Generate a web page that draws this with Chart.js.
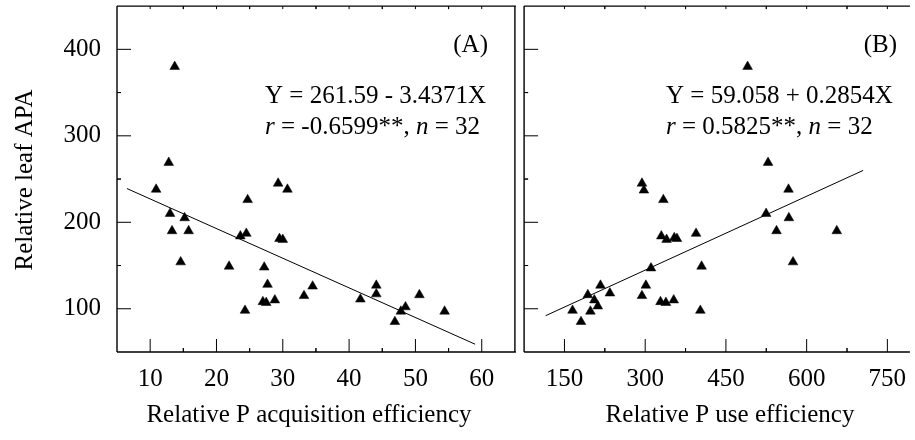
<!DOCTYPE html>
<html>
<head>
<meta charset="utf-8">
<script src="https://cdn.jsdelivr.net/npm/chart.js@4.4.0/dist/chart.umd.min.js"></script>
<style>
  body { margin: 0; background: #fff; }
  #wrap { position: relative; width: 915px; height: 440px; overflow: hidden; }
  #boxA { position: absolute; left: 0; top: 0; width: 521px; height: 440px; }
  #boxB { position: absolute; left: 518px; top: 0; width: 397px; height: 440px; }
</style>
</head>
<body>
<div id="wrap">
  <div id="boxA"><canvas id="chartA"></canvas></div>
  <div id="boxB"><canvas id="chartB"></canvas></div>
</div>
<script>
'use strict'

// ------------------------- Data -------------------------------------- //
// (A) relative P acquisition efficiency vs relative leaf APA
const acqEff = [13.7, 12.8, 10.9, 29.3, 30.7, 24.7, 13.0, 15.2, 13.3, 15.8, 23.6, 24.5, 29.5, 30.0, 14.6, 21.9,
                27.2, 27.7, 27.0, 27.5, 28.8, 24.3, 33.2, 34.5, 41.7, 44.1, 44.1, 50.6, 48.5, 47.8, 46.9, 54.4];
const apaA   = [380, 269, 238, 245, 238, 226, 210, 205, 190, 190, 184, 187, 181, 180, 154, 149,
                148, 128, 108, 107, 110, 98, 115, 126, 111, 127, 117, 116, 102, 97, 85, 97];
const fitA   = [[6.5, 239], [59, 59]];

// (B) relative P use efficiency vs relative leaf APA
const useEff = [294, 297.6, 333.8, 339.8, 354, 359, 394.5, 404.8, 402.5, 310.8, 301.3, 294, 328.4, 338.5, 353, 216.9,
                234.4, 193.4, 205.5, 212, 198.2, 165, 180.7, 490.3, 528.3, 566.3, 524.7, 567, 544, 656, 574.7, 330];
const apaB   = [245, 237, 226, 180, 182, 181, 187, 149, 98, 147, 127, 115, 108, 107, 110, 127,
                118, 116, 110, 103, 97, 98, 85, 380, 269, 238, 210, 205, 190, 190, 154, 184];
const fitB   = [[115, 92], [705, 260]];

// tick labels
const yTicks  = [100, 200, 300, 400];
const xTicksA = [10, 20, 30, 40, 50, 60];
const xTicksB = [150, 300, 450, 600, 750];

const FONT = "'Liberation Serif', 'Times New Roman', serif";

// ------------------------- Funciones -------------------------------------- //
function toPoints(xs, ys) {
    let arr = [];
    for (let i = 0; i < xs.length; i++) {
        arr.push({x: xs[i], y: ys[i]});
    }
    return arr;
}

function minors(majors, min, max) {
    let step = majors[1] - majors[0];
    let arr = [];
    for (let v of majors) {
        if (v - step / 2 > min) arr.push(v - step / 2);
        if (v + step / 2 < max) arr.push(v + step / 2);
    }
    return arr;
}

// draws a line of text made of [text, italic] pieces
function richText(ctx, pieces, x, y) {
    for (let [txt, it] of pieces) {
        ctx.font = (it ? 'italic ' : '') + '25px ' + FONT;
        ctx.fillText(txt, x, y);
        x += ctx.measureText(txt).width;
    }
}

// frame and inward ticks, like the original figure
const frameTicks = {
    id: 'frameTicks',
    afterDraw(chart, args, opts) {
        const ctx = chart.ctx;
        const a = chart.chartArea;
        const x = chart.scales.x, y = chart.scales.y;
        ctx.save();
        ctx.strokeStyle = '#000';
        ctx.lineWidth = 1.4;
        ctx.beginPath();
        ctx.moveTo(a.left, a.top); ctx.lineTo(a.left, a.bottom);
        ctx.moveTo(a.left, a.bottom); ctx.lineTo(a.right + 1, a.bottom);
        ctx.moveTo(a.left, a.top); ctx.lineTo(a.right + 1, a.top);
        if (opts.right) { ctx.moveTo(a.right, a.top); ctx.lineTo(a.right, a.bottom); }
        ctx.stroke();

        ctx.lineWidth = 1;
        ctx.beginPath();
        for (let v of opts.xMajor) {
            let px = x.getPixelForValue(v);
            ctx.moveTo(px, a.bottom); ctx.lineTo(px, a.bottom - 13);
            ctx.moveTo(px, a.top); ctx.lineTo(px, a.top + 3);
        }
        for (let v of minors(opts.xMajor, x.min, x.max)) {
            let px = x.getPixelForValue(v);
            ctx.moveTo(px, a.bottom); ctx.lineTo(px, a.bottom - 4);
            ctx.moveTo(px, a.top); ctx.lineTo(px, a.top + 3);
        }
        for (let v of yTicks) {
            let py = y.getPixelForValue(v);
            ctx.moveTo(a.left, py); ctx.lineTo(a.left + 14, py);
        }
        for (let v of minors(yTicks, y.min, y.max)) {
            let py = y.getPixelForValue(v);
            ctx.moveTo(a.left, py); ctx.lineTo(a.left + 4, py);
        }
        ctx.stroke();

        // texts
        ctx.fillStyle = '#000';
        ctx.textBaseline = 'alphabetic';
        ctx.textAlign = 'left';
        richText(ctx, opts.eq1, opts.eqX, 103);
        richText(ctx, opts.eq2, opts.eqX, 134);
        ctx.textAlign = 'right';
        ctx.font = '25px ' + FONT;
        ctx.fillText(opts.tag, opts.tagX, 52);
        ctx.textAlign = 'center';
        ctx.fillText(opts.xTitle, opts.xTitleX, 422);
        if (opts.yTitle) {
            ctx.translate(32, 180);
            ctx.rotate(-Math.PI / 2);
            ctx.fillText(opts.yTitle, 0, 0);
        }
        ctx.restore();
    }
};

function makeChart(id, pts, fit, xMin, xMax, xTicks, showY, pad, opts) {
    let ctx = document.getElementById(id).getContext('2d');
    return new Chart(ctx, {
        type: 'scatter',
        data: {
            datasets: [
                {
                    data: pts,
                    pointStyle: 'triangle',
                    pointRadius: 5.6,
                    backgroundColor: '#000',
                    borderColor: '#000',
                    borderWidth: 0.5
                },
                {
                    type: 'line',
                    data: fit.map(p => ({x: p[0], y: p[1]})),
                    borderColor: '#000',
                    borderWidth: 1,
                    pointRadius: 0,
                    fill: false
                }
            ]
        },
        options: {
            responsive: true,
            maintainAspectRatio: false,
            animation: false,
            devicePixelRatio: 1,
            layout: {padding: pad},
            plugins: {
                legend: {display: false},
                tooltip: {enabled: false},
                frameTicks: opts
            },
            scales: {
                x: {
                    type: 'linear',
                    min: xMin,
                    max: xMax,
                    grid: {display: false, drawTicks: false},
                    border: {display: false},
                    afterBuildTicks: s => { s.ticks = xTicks.map(v => ({value: v})); },
                    afterFit: s => {
                        s.height = 88;
                        s.paddingLeft = 0;
                        s.paddingRight = 0;
                    },
                    ticks: {
                        color: '#000',
                        padding: 12,
                        maxRotation: 0,
                        autoSkip: false,
                        font: {family: FONT, size: 25}
                    }
                },
                y: {
                    display: showY,
                    min: 50,
                    max: 450,
                    grid: {display: false, drawTicks: false},
                    border: {display: false},
                    afterBuildTicks: s => { s.ticks = yTicks.map(v => ({value: v})); },
                    afterFit: s => {
                        if (showY) s.width = 117;
                        s.paddingTop = 0;
                        s.paddingBottom = 0;
                    },
                    ticks: {
                        color: '#000',
                        padding: 16,
                        font: {family: FONT, size: 25}
                    }
                }
            }
        },
        plugins: [frameTicks]
    });
}

// ------------------------------ Main ------------------------------ //
makeChart('chartA', toPoints(acqEff, apaA), fitA, 5, 65, xTicksA, true,
    {top: 6, left: 0, right: 2, bottom: 0},
    {
        right: true,
        xMajor: xTicksA,
        eq1: [['Y = 261.59 - 3.4371X', false]],
        eq2: [['r', true], [' = -0.6599**, ', false], ['n', true], [' = 32', false]],
        eqX: 265,
        tag: '(A)',
        tagX: 488,
        xTitle: 'Relative P acquisition efficiency',
        xTitleX: 309,
        yTitle: 'Relative leaf APA'
    });

makeChart('chartB', toPoints(useEff, apaB), fitB, 75, 790, xTicksB, false,
    {top: 6, left: 1, right: 0, bottom: 0},
    {
        right: false,
        xMajor: xTicksB,
        eq1: [['Y = 59.058 + 0.2854X', false]],
        eq2: [['r', true], [' = 0.5825**, ', false], ['n', true], [' = 32', false]],
        eqX: 148,
        tag: '(B)',
        tagX: 379,
        xTitle: 'Relative P use efficiency',
        xTitleX: 212,
        yTitle: null
    });
</script>
</body>
</html>
